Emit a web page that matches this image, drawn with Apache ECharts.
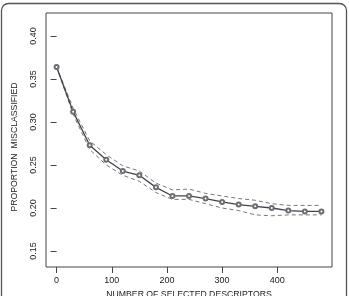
<!DOCTYPE html>
<html>
<head>
<meta charset="utf-8">
<script src="https://cdn.jsdelivr.net/npm/echarts@6/dist/echarts.min.js"></script>
<style>
    html, body { margin: 0; padding: 0; background: #fff; }
    #chart { width: 349px; height: 296px; }
</style>
</head>
<body>
<div id="chart"></div>
<script>
// number of selected descriptors (x) and the misclassification curves
const descriptorCounts = [0, 30, 60, 90, 120, 150, 180, 210, 240, 270, 300, 330, 360, 390, 420, 450, 480];
const meanError = [0.364, 0.312, 0.273, 0.256, 0.243, 0.238, 0.224, 0.214, 0.214, 0.211, 0.207, 0.204, 0.202, 0.200, 0.197, 0.196, 0.196];
const upperError = [0.364, 0.316, 0.278, 0.262, 0.249, 0.243, 0.229, 0.221, 0.222, 0.217, 0.214, 0.211, 0.209, 0.205, 0.203, 0.203, 0.203];
const lowerError = [0.364, 0.309, 0.268, 0.250, 0.238, 0.231, 0.218, 0.210, 0.210, 0.205, 0.200, 0.197, 0.192, 0.191, 0.192, 0.192, 0.192];
const xTicks = [0, 100, 200, 300, 400];
const yTicks = [0.15, 0.20, 0.25, 0.30, 0.35, 0.40];

const axisColor = "#444";
const font = "Liberation Sans, Arial, sans-serif";

const toPairs = vals => descriptorCounts.map((x, i) => [x, vals[i]]);

const chart = echarts.init(document.getElementById("chart"), null, { renderer: "canvas" });

const bandLine = vals => ({
    type: "line",
    data: toPairs(vals),
    showSymbol: false,
    silent: true,
    lineStyle: { color: "#777", width: 1, type: [4, 3] },
    z: 2,
});

const option = {
    animation: false,
    backgroundColor: "#fff",
    grid: {
        left: 46,
        top: 13,
        right: 17,
        bottom: 29,
        show: true,
        borderColor: axisColor,
        borderWidth: 1,
        outerBoundsMode: "none",
    },
    xAxis: {
        type: "value",
        min: -19.2,
        max: 499.2,
        name: "NUMBER OF SELECTED DESCRIPTORS",
        nameLocation: "middle",
        nameGap: 21,
        nameTextStyle: { fontFamily: font, fontSize: 8.7, color: "#222" },
        axisLine: { show: false },
        splitLine: { show: false },
        axisTick: {
            show: true,
            length: 6,
            lineStyle: { color: axisColor },
            customValues: xTicks,
        },
        axisLabel: {
            margin: 9,
            fontFamily: font,
            fontSize: 9,
            color: "#222",
            customValues: xTicks,
        },
    },
    yAxis: {
        type: "value",
        min: 0.1314,
        max: 0.4267,
        axisLine: { show: false },
        splitLine: { show: false },
        axisTick: {
            show: true,
            length: 6,
            lineStyle: { color: axisColor },
            customValues: yTicks,
        },
        axisLabel: {
            rotate: 90,
            margin: 8,
            fontFamily: font,
            fontSize: 9,
            color: "#222",
            customValues: yTicks,
            formatter: v => v.toFixed(2),
        },
    },
    graphic: [
        {
            // rounded frame around the whole figure
            type: "rect",
            shape: { x: 1.5, y: 3.5, width: 345, height: 330, r: 7 },
            style: { fill: "none", stroke: "#555", lineWidth: 1.3 },
            silent: true,
        },
        {
            type: "text",
            x: 15,
            y: 147,
            rotation: Math.PI / 2,
            style: {
                text: "PROPORTION  MISCLASSIFIED",
                fontFamily: font,
                fontSize: 8.7,
                fill: "#222",
                align: "center",
                verticalAlign: "middle",
            },
            silent: true,
        },
    ],
    series: [
        bandLine(upperError),
        bandLine(lowerError),
        {
            type: "line",
            data: toPairs(meanError),
            symbol: "emptyCircle",
            symbolSize: 4,
            showAllSymbol: true,
            lineStyle: { color: "#45424a", width: 1.3 },
            itemStyle: { color: "#6e6c74", borderColor: "#45424a", borderWidth: 1 },
            z: 3,
        },
    ],
};

chart.setOption(option);
</script>
</body>
</html>
